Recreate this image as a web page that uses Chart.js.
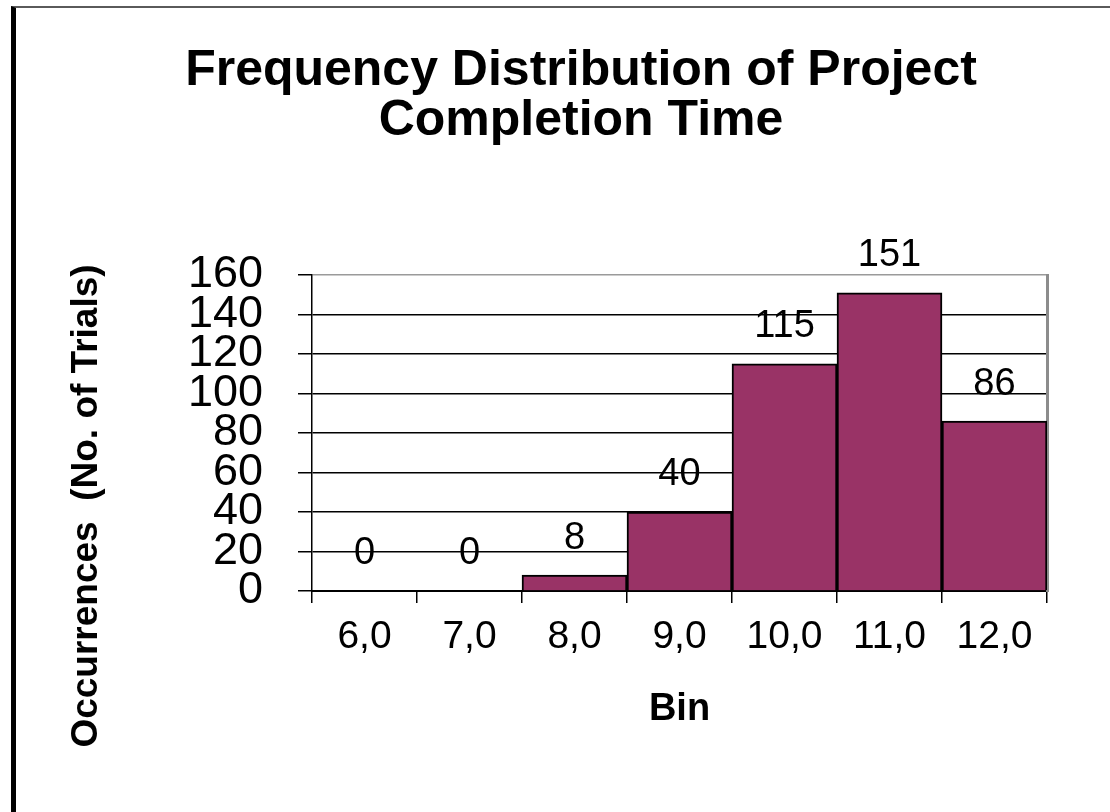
<!DOCTYPE html>
<html>
<head>
<meta charset="utf-8">
<title>Frequency Distribution of Project Completion Time</title>
<script src="https://cdn.jsdelivr.net/npm/chart.js@4.4.1/dist/chart.umd.min.js"></script>
<style>
  html, body { margin: 0; padding: 0; width: 1110px; height: 812px; overflow: hidden; background: #fff; }
  #frame { position: absolute; left: 11px; top: 6px; width: 1200px; height: 900px;
           border-left: 5px solid #000; border-top: 2px solid #5a5a5a; }
  #chart { position: absolute; left: 16px; top: 8px; }
</style>
</head>
<body>
<div id="frame"></div>
<canvas id="chart" width="1130" height="996"></canvas>
<script>
// Histogram data: bin upper limits and how many trials fell into each bin
const bins = ['6,0', '7,0', '8,0', '9,0', '10,0', '11,0', '12,0'];
const occurrences = [0, 0, 8, 40, 115, 151, 86];
const yTicks = [0, 20, 40, 60, 80, 100, 120, 140, 160];

const FONT = '"Liberation Sans", Arial, Helvetica, sans-serif';

// Writes each bar's count above it
const valueLabels = {
  id: 'valueLabels',
  afterDatasetsDraw(chart) {
    const ctx = chart.ctx;
    const ds = chart.data.datasets[0];
    const meta = chart.getDatasetMeta(0);
    ctx.save();
    ctx.font = '38px ' + FONT;
    ctx.fillStyle = '#000';
    ctx.textAlign = 'center';
    ctx.textBaseline = 'middle';
    meta.data.forEach((bar, i) => {
      ctx.fillText(String(ds.data[i]), bar.x, bar.y - 37);
    });
    ctx.restore();
  }
};

new Chart(document.getElementById('chart'), {
  type: 'bar',
  data: {
    labels: bins,
    datasets: [{
      data: occurrences,
      backgroundColor: '#993366',
      borderColor: '#000',
      borderWidth: 2,
      barPercentage: 1,
      categoryPercentage: 1
    }]
  },
  options: {
    responsive: false,
    animation: false,
    layout: { padding: 0 },
    plugins: {
      legend: { display: false },
      tooltip: { enabled: false },
      title: {
        display: true,
        text: ['Frequency Distribution of Project', 'Completion Time'],
        color: '#000',
        font: { family: FONT, size: 50, weight: 'bold', lineHeight: 1.0 },
        padding: { top: 38, bottom: 129 }
      },
      subtitle: {
        display: true,
        position: 'left',
        text: 'Occurrences  (No. of Trials)',
        color: '#000',
        font: { family: FONT, size: 37, weight: 'bold', lineHeight: 1.2 },
        padding: { top: 48.8, bottom: 0 }
      }
    },
    scales: {
      x: {
        grid: { offset: true, drawOnChartArea: false, drawTicks: true, tickLength: 12, color: '#000', lineWidth: 1.5 },
        border: { color: '#000', width: 2 },
        ticks: { color: '#000', font: { family: FONT, size: 39 }, padding: 11, maxRotation: 0, autoSkip: false },
        title: {
          display: true, text: 'Bin', color: '#000',
          font: { family: FONT, size: 38, weight: 'bold', lineHeight: 1.2 },
          padding: { top: 0, bottom: 271.2 }
        },
        afterFit(scale) { scale.height = 413; }
      },
      y: {
        min: yTicks[0],
        max: yTicks[yTicks.length - 1],
        afterBuildTicks(scale) { scale.ticks = yTicks.map(v => ({ value: v })); },
        ticks: { stepSize: 20, autoSkip: false, color: '#000', font: { family: FONT, size: 45 }, padding: 35 },
        grid: {
          color: ctx => (ctx.tick && ctx.tick.value === yTicks[yTicks.length - 1]) ? '#9a9a9a' : '#000',
          tickColor: '#000',
          lineWidth: 1.5,
          tickLength: 14,
          drawTicks: true
        },
        border: { color: '#000', width: 1.5 },
        afterFit(scale) { scale.width = 202.8; }
      },
      // plot-area frame on the right-hand side
      frameRight: {
        type: 'linear',
        position: 'right',
        display: true,
        grid: { drawOnChartArea: false, drawTicks: false },
        ticks: { display: false },
        border: { display: true, color: '#8c8c8c', width: 3 },
        afterFit(scale) { scale.width = 99; }
      }
    }
  },
  plugins: [valueLabels]
});
</script>
</body>
</html>
